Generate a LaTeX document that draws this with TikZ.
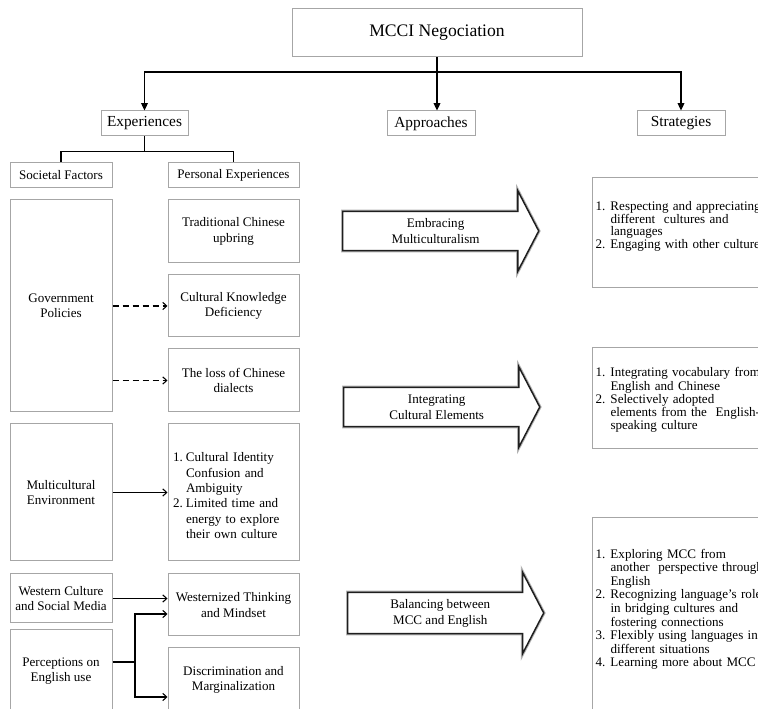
\documentclass[tikz,border=0pt]{standalone}
\usepackage{fontspec}
\setmainfont{Liberation Serif}
\usetikzlibrary{arrows.meta, positioning, shapes.arrows, calc}
\definecolor{boxgray}{RGB}{166, 166, 166}
\definecolor{arrowdark}{RGB}{30, 30, 30}
\newcommand{\numitem}[3]{\par\noindent\hangindent=#1\hangafter=1\makebox[#1][l]{#2}#3\par}
\newcommand{\padbottom}[1]{\par\nointerlineskip\vbox to #1{\vfil}}

\begin{document}
\begin{tikzpicture}[
    x=0.75pt, y=-0.75pt,
    every node/.style = {font=\fontsize{9.8}{11.5}\selectfont},
    box/.style = {draw=boxgray, line width=0.75pt, fill=white, align=center, inner sep=2pt},
    hdr/.style = {box, font=\fontsize{11.5}{13}\selectfont, minimum width=66pt, minimum height=18.75pt},
    factor/.style = {box, minimum width=76.5pt},
    perso/.style = {box, minimum width=98.25pt},
    strat/.style = {box, anchor=north west, align=left, text width=150pt, inner xsep=2.25pt},
    approach/.style = {single arrow, single arrow head extend=15pt, single arrow tip angle=125,
                       minimum width=60pt, minimum height=147pt, inner ysep=4.5pt, anchor=tail,
                       align=center, fill=white, draw=arrowdark, line width=1.1pt,
                       preaction={draw=black!30, line width=2.6pt},
                       font=\fontsize{9.8}{12}\selectfont},
    link/.style = {line width=0.9pt},
    tree/.style = {link, -{Triangle[length=5.5pt, width=5pt]}},
    conn/.style = {line width=0.8pt, -{Straight Barb[length=3pt, width=5.5pt]}},
    dashconn/.style = {conn, dash pattern=on 4.5pt off 3pt}
]
  \useasboundingbox[fill=white] (0,0) rectangle (758,709);

  \node[box, minimum width=217.5pt, minimum height=36pt, font=\fontsize{13.2}{15}\selectfont] (mcci) at (437,33) {MCCI Negociation};
  \node[hdr, minimum width=65.25pt] (exper) at (144.5,123.5) {Experiences};
  \node[hdr] (appr) at (431,123.5) {Approaches};
  \node[hdr] (strat) at (681,123.5) {Strategies};

  \node[factor, minimum height=18.75pt] (soc) at (61,175.5) {Societal Factors};
  \node[perso, minimum height=18.75pt] (pers) at (233.5,175.5) {Personal Experiences};

  \node[factor, minimum height=159pt] (gov) at (61,306) {Government\\Policies};
  \node[factor, minimum height=102.75pt] (multi) at (61,492.5) {Multicultural\\Environment};
  \node[factor, minimum height=36.75pt] (western) at (61,598.5) {Western Culture\\and Social Media};
  \node[factor, minimum height=61.5pt] (perc) at (61,671) {Perceptions on\\English use};

  \node[perso, minimum height=47.25pt] (trad) at (233.5,231.5) {Traditional Chinese\\upbring};
  \node[perso, minimum height=46.5pt] (ckd) at (233.5,306) {Cultural Knowledge\\Deficiency};
  \node[perso, minimum height=47.25pt] (loss) at (233.5,380.5) {The loss of Chinese\\dialects};
  \node[box, align=left, text width=90.75pt, inner xsep=3.75pt, minimum height=102.75pt] (idlist) at (233.5,492.5) {%
    \numitem{9.75pt}{1.}{Cultural Identity\newline Confusion and\newline Ambiguity}%
    \numitem{9.75pt}{2.}{Limited time and\newline energy to explore\newline their own culture}};
  \node[perso, minimum height=46.5pt] (wthink) at (233.5,605) {Westernized Thinking\\and Mindset};
  \node[perso, minimum height=48pt] (discr) at (233.5,680) {Discrimination and\\Marginalization};

  \node[approach] (embrace) at (342,231) {Embracing\\Multiculturalism};
  \node[approach] (integ) at (343,407) {Integrating\\Cultural Elements};
  \node[approach] (balance) at (347,613) {Balancing between\\MCC and English};

  \node[strat, minimum height=82.5pt, font=\fontsize{9.8}{9.4}\selectfont] (str1) at (592,177) {%
    \numitem{11.25pt}{1.}{Respecting and appreciating\newline different\ \ cultures and\newline languages}%
    \numitem{11.25pt}{2.}{Engaging with other cultures}\padbottom{12pt}};
  \node[strat, minimum height=75.75pt, font=\fontsize{9.8}{9.8}\selectfont] (str2) at (592,347) {%
    \numitem{11.25pt}{1.}{Integrating vocabulary from\newline English and Chinese}%
    \numitem{11.25pt}{2.}{Selectively adopted\newline elements from the\ \ English-\newline speaking culture}};
  \node[strat, minimum height=148.5pt, font=\fontsize{9.8}{10.2}\selectfont] (str3) at (592,517) {%
    \numitem{11.25pt}{1.}{Exploring MCC from\newline another\ \ perspective through\newline English}%
    \numitem{11.25pt}{2.}{Recognizing language's role\newline in bridging cultures and\newline fostering connections}%
    \numitem{11.25pt}{3.}{Flexibly using languages in\newline different situations}%
    \numitem{11.25pt}{4.}{Learning more about MCC}\padbottom{14pt}};

  \coordinate (split) at (437,72);
  \draw[link] (mcci.south) -- (split);
  \draw[tree] (split) -| (exper.north);
  \draw[tree] (split) -| (strat.north);
  \draw[tree] (mcci.south) -- (mcci.south |- appr.north);

  \draw[link] (exper.south) -- ++(0,15) coordinate (esplit) -| (soc.north);
  \draw[link] (esplit) -| (pers.north);

  \draw[dashconn] (gov.east) -- (ckd.west);
  \draw[dashconn] (gov.east |- loss.west) -- (loss.west);
  \draw[conn] (multi.east) -- (idlist.west);
  \draw[conn] (western.east) -- (western.east -| wthink.west);
  \coordinate (pfork) at (135,662);
  \draw[link] (perc.east |- pfork) -- (pfork);
  \draw[conn] (pfork) |- ([yshift=-6.75pt]wthink.west);
  \draw[conn] (pfork) |- ([yshift=-12.75pt]discr.west);
\end{tikzpicture}
\end{document}
